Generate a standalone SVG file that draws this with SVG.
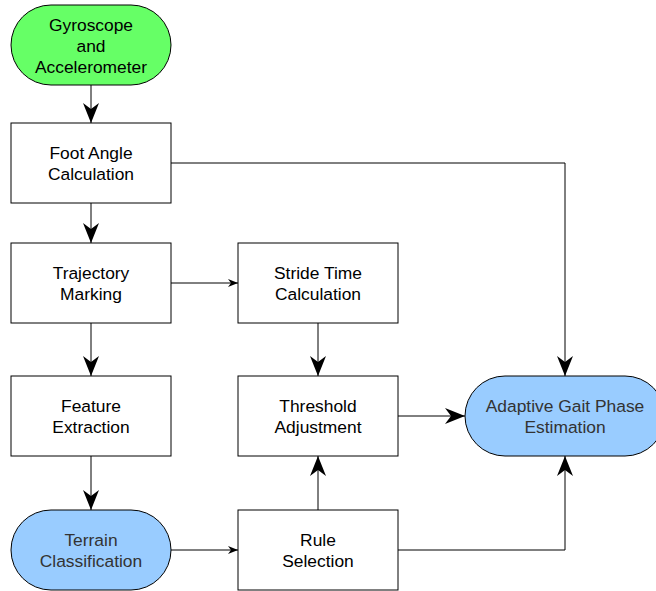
<svg xmlns="http://www.w3.org/2000/svg" width="656" height="591" viewBox="0 0 656 591">
<style>
.box{fill:#ffffff;stroke:#000;stroke-width:1}
.term{stroke:#000;stroke-width:1}
.g{fill:#66ff66}
.b{fill:#99ccff}
text{font-family:"Liberation Sans",Arial,sans-serif;font-size:17.4px;text-anchor:middle;fill:#000}
.dk{fill:#333333}
.c{fill:none;stroke:#000;stroke-width:1}
</style>
<defs>
<marker id="big" markerUnits="userSpaceOnUse" markerWidth="20" markerHeight="20" viewBox="0 0 20 20" refX="20" refY="10" orient="auto">
<path d="M0,2 L20,10 L0,18 L6,10 Z" fill="#000"/>
</marker>
<marker id="sm" markerUnits="userSpaceOnUse" markerWidth="10" markerHeight="10" viewBox="0 0 10 10" refX="10" refY="5" orient="auto">
<path d="M0,1 L10,5 L0,9 L3,5 Z" fill="#000"/>
</marker>
</defs>
<g id="connectors">
<path class="c" d="M91,85 V123" marker-end="url(#big)"/>
<path class="c" d="M171,163 H565 V376" marker-end="url(#big)"/>
<path class="c" d="M91,203 V243" marker-end="url(#big)"/>
<path class="c" d="M171,283 H238" marker-end="url(#sm)"/>
<path class="c" d="M91,323 V376" marker-end="url(#big)"/>
<path class="c" d="M318,323 V376" marker-end="url(#big)"/>
<path class="c" d="M398,416 H465" marker-end="url(#big)"/>
<path class="c" d="M91,456 V510" marker-end="url(#big)"/>
<path class="c" d="M171,550 H238" marker-end="url(#sm)"/>
<path class="c" d="M318,510 V456" marker-end="url(#big)"/>
<path class="c" d="M398,550 H565 V456" marker-end="url(#big)"/>
</g>
<g id="gyro">
<rect class="term g" x="11" y="5" width="160" height="80" rx="40" ry="40"/>
<text x="91" y="31">Gyroscope</text>
<text x="91" y="52">and</text>
<text x="91" y="73">Accelerometer</text>
</g>
<g id="foot">
<rect class="box" x="11" y="123" width="160" height="80"/>
<text x="91" y="159">Foot Angle</text>
<text x="91" y="180">Calculation</text>
</g>
<g id="traj">
<rect class="box" x="11" y="243" width="160" height="80"/>
<text x="91" y="279">Trajectory</text>
<text x="91" y="300">Marking</text>
</g>
<g id="stride">
<rect class="box" x="238" y="243" width="160" height="80"/>
<text x="318" y="279">Stride Time</text>
<text x="318" y="300">Calculation</text>
</g>
<g id="feature">
<rect class="box" x="11" y="376" width="160" height="80"/>
<text x="91" y="412">Feature</text>
<text x="91" y="433">Extraction</text>
</g>
<g id="threshold">
<rect class="box" x="238" y="376" width="160" height="80"/>
<text x="318" y="412">Threshold</text>
<text x="318" y="433">Adjustment</text>
</g>
<g id="adaptive">
<rect class="term b" x="465" y="376" width="200" height="80" rx="40" ry="40"/>
<text class="dk" x="565" y="412">Adaptive Gait Phase</text>
<text class="dk" x="565" y="433">Estimation</text>
</g>
<g id="terrain">
<rect class="term b" x="11" y="510" width="160" height="80" rx="40" ry="40"/>
<text class="dk" x="91" y="546">Terrain</text>
<text class="dk" x="91" y="567">Classification</text>
</g>
<g id="rule">
<rect class="box" x="238" y="510" width="160" height="80"/>
<text x="318" y="546">Rule</text>
<text x="318" y="567">Selection</text>
</g>
</svg>
